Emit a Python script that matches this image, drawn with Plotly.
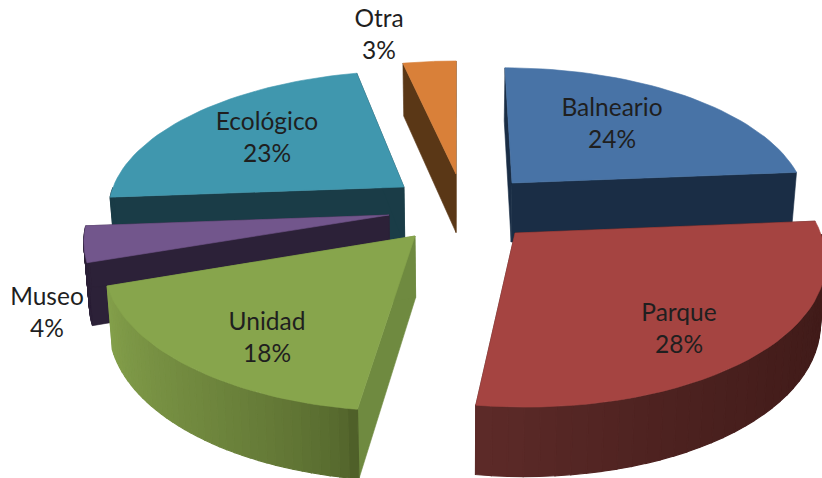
import math
import plotly.graph_objects as go

categories = ["Balneario", "Parque", "Unidad", "Museo", "Ecológico", "Otra"]
values = [23.7, 28.5, 17.6, 4.0, 22.8, 3.4]
labels = ["24%", "28%", "18%", "4%", "23%", "3%"]

top_colors = ["#4873a6", "#a54441", "#87a54c", "#72568c", "#4097ae", "#d98039"]
face_colors = ["#1a2d45", "#431a18", "#6f8a40", "#2c2138", "#1a3c47", "#5a3716"]
rim_from = ["#1a2d45", "#3f1a18", "#4f6029", "#2c2138", "#1a3c47", "#5a3716"]
rim_to = ["#1a2d45", "#5e2b29", "#84a04b", "#2c2138", "#1a3c47", "#5a3716"]
rim_gamma = [1, 2, 0.6, 1, 1, 1]
tips = [(512, 183), (515, 233), (415, 236), (389, 215), (404, 187), (456, 174)]
label_pos = [(612, 125.5), (679, 330.5), (267, 339.5), (47, 314.5), (267, 139.5), (379, 36.5)]

CX, CY, A, B, P = 457, 203, 296, 138, 0.15
draw_order = [5, 0, 4, 3, 2, 1]


def unproject(tip):
    u = CY - tip[1]
    gy = u / (B - P * u)
    w = 1 + P * gy
    return (tip[0] - CX) * w / A, gy


def project(gx, gy):
    w = 1 + P * gy
    return CX + A * gx / w, CY - B * gy / w, 60 / (1 + 0.75 * (w - 1))


def down(p):
    return CX + (p[0] - CX) * 0.985, p[1] + p[2]


def hex_mix(a, b, t):
    ca = [int(a[i:i + 2], 16) for i in (1, 3, 5)]
    cb = [int(b[i:i + 2], 16) for i in (1, 3, 5)]
    return "#%02x%02x%02x" % tuple(round(x + (y - x) * t) for x, y in zip(ca, cb))


fig = go.Figure()


def poly(pts, color, lw=0.6):
    fig.add_trace(go.Scatter(
        x=[p[0] for p in pts] + [pts[0][0]], y=[p[1] for p in pts] + [pts[0][1]],
        mode="lines", fill="toself", fillcolor=color,
        line=dict(color=color, width=lw), hoverinfo="skip", showlegend=False))


total = sum(values)
starts = []
acc = 0
for v in values:
    starts.append(acc / total * 2 * math.pi)
    acc += v

for i in draw_order:
    ox, oy = unproject(tips[i])
    a0 = starts[i]
    a1 = a0 + values[i] / total * 2 * math.pi
    n = 40
    angs = [a0 + (a1 - a0) * k / n for k in range(n + 1)]
    rim = [project(ox + math.sin(a), oy + math.cos(a)) for a in angs]
    tip = project(ox, oy)
    for e in (rim[0], rim[-1]):
        poly([tip[:2], e[:2], down(e), down(tip)], face_colors[i])
    for k in range(n):
        mid = (angs[k] + angs[k + 1]) / 2
        if math.cos(mid) < 0.0:
            p, q = rim[k], rim[k + 1]
            poly([p[:2], q[:2], down(q), down(p)],
                 hex_mix(rim_from[i], rim_to[i], (k / n) ** rim_gamma[i]), lw=1.2)
    poly([tip[:2]] + [p[:2] for p in rim], top_colors[i])

for name, lab, pos in zip(categories, labels, label_pos):
    fig.add_trace(go.Scatter(
        x=[pos[0]], y=[pos[1]], mode="text", text=[f"{name}<br>{lab}"],
        textposition="middle center", textfont=dict(family="Lato", size=24.5, color="#1f1f1f"),
        hoverinfo="skip", showlegend=False))

fig.update_layout(
    width=822, height=478, margin=dict(l=0, r=0, t=0, b=0),
    paper_bgcolor="white", plot_bgcolor="white",
    xaxis=dict(range=[0, 822], visible=False, fixedrange=True),
    yaxis=dict(range=[478, 0], visible=False, fixedrange=True),
)
fig.write_html("out.html", config={"displayModeBar": False},
               post_script="document.body.style.margin='0';document.body.style.overflow='hidden';")
